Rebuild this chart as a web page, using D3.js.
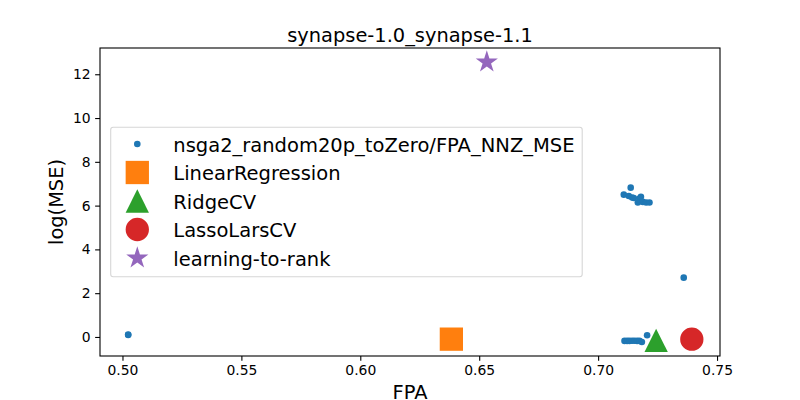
<!DOCTYPE html>
<html>
<head>
<meta charset="utf-8">
<script src="https://cdn.jsdelivr.net/npm/d3@7"></script>
<style>
  body { margin: 0; background: #fff; }
  svg { display: block; font-family: "DejaVu Sans", sans-serif; }
</style>
</head>
<body>
<div id="chart"></div>
<script>
// nsga2 front (FPA, log(MSE))
let nsgaFPA = [0.5024, 0.5024,
	0.7108, 0.7137, 0.7129, 0.7143, 0.7150, 0.7180, 0.7174, 0.7167, 0.7188, 0.7202, 0.7216,
	0.7360,
	0.7111, 0.7122, 0.7132, 0.7143, 0.7153, 0.7164, 0.7174, 0.7184, 0.7206];
let nsgaMSE = [0.09, 0.11,
	6.50, 6.82, 6.44, 6.37, 6.35, 6.40, 6.32, 6.14, 6.17, 6.14, 6.14,
	2.71,
	-0.18, -0.18, -0.18, -0.17, -0.17, -0.18, -0.18, -0.23, 0.08];

// single-point baselines
let baseNames = ["LinearRegression", "RidgeCV", "LassoLarsCV", "learning-to-rank"];
let baseFPA = [0.6383, 0.7244, 0.7394, 0.6532];
let baseMSE = [-0.10, -0.16, -0.10, 12.56];
let baseShapes = ["square", "triangle", "circle", "star"];
let baseColors = ["#ff7f0e", "#2ca02c", "#d62728", "#9467bd"];

let nsgaName = "nsga2_random20p_toZero/FPA_NNZ_MSE";
let nsgaColor = "#1f77b4";
let xTicks = [0.50, 0.55, 0.60, 0.65, 0.70, 0.75];
let yTicks = [0, 2, 4, 6, 8, 10, 12];
let chartTitle = "synapse-1.0_synapse-1.1";

let w = 800, h = 400,
	margin = {top: 48, right: 80, bottom: 44, left: 100},
	markSize = 23.3,
	dotR = 3.3;

let svg = d3.select("#chart").append("svg").attr("width", w).attr("height", h);

// matplotlib style 5% padding around data
function padded(arr){
	let lo = d3.min(arr), hi = d3.max(arr), p = (hi - lo) * 0.05;
	return [lo - p, hi + p];
}
let allX = nsgaFPA.concat(baseFPA), allY = nsgaMSE.concat(baseMSE);

let x = d3.scaleLinear().domain(padded(allX)).range([margin.left, w - margin.right]);
let y = d3.scaleLinear().domain(padded(allY)).range([h - margin.bottom, margin.top]);

function markerPath(shape, s){
	let r = s / 2;
	if(shape === "square"){
		return "M" + (-r) + "," + (-r) + "H" + r + "V" + r + "H" + (-r) + "Z";
	}
	if(shape === "triangle"){
		return "M0," + (-r) + "L" + r + "," + r + "L" + (-r) + "," + r + "Z";
	}
	if(shape === "circle"){
		return "M" + r + ",0A" + r + "," + r + " 0 1,1 " + (-r) + ",0A" + r + "," + r + " 0 1,1 " + r + ",0Z";
	}
	// star, inner ratio like matplotlib
	let pts = [], ri = r * 0.381966;
	for(let i = 0; i < 10; i++){
		let a = -Math.PI / 2 + i * Math.PI / 5, rr = i % 2 ? ri : r;
		pts.push([rr * Math.cos(a), rr * Math.sin(a)]);
	}
	return "M" + pts.map(p => p[0].toFixed(2) + "," + p[1].toFixed(2)).join("L") + "Z";
}

// axes
let tickLen = 4.86;
let xAxis = svg.append("g")
	.attr("transform", "translate(0," + (h - margin.bottom) + ")")
	.call(d3.axisBottom(x).tickValues(xTicks).tickFormat(d3.format(".2f")).tickSizeOuter(0).tickSize(tickLen).tickPadding(4.5));
let yAxis = svg.append("g")
	.attr("transform", "translate(" + margin.left + ",0)")
	.call(d3.axisLeft(y).tickValues(yTicks).tickFormat(d3.format("d")).tickSizeOuter(0).tickSize(tickLen).tickPadding(4.5));
[xAxis, yAxis].forEach(function(a){
	a.select(".domain").remove();
	a.selectAll("line").attr("stroke", "#000").attr("stroke-width", 1.1);
	a.selectAll("text").attr("fill", "#000").style("font-size", "13.9px").style("font-family", "DejaVu Sans");
});

// frame
svg.append("rect")
	.attr("x", margin.left).attr("y", margin.top)
	.attr("width", w - margin.left - margin.right)
	.attr("height", h - margin.top - margin.bottom)
	.attr("fill", "none").attr("stroke", "#000").attr("stroke-width", 1.1);

// points
let plot = svg.append("g");
plot.selectAll("circle.nsga")
	.data(d3.range(nsgaFPA.length))
	.enter().append("circle")
	.attr("class", "nsga")
	.attr("cx", i => x(nsgaFPA[i]))
	.attr("cy", i => y(nsgaMSE[i]))
	.attr("r", dotR)
	.attr("fill", nsgaColor);

plot.selectAll("path.base")
	.data(d3.range(baseNames.length))
	.enter().append("path")
	.attr("class", "base")
	.attr("transform", i => "translate(" + x(baseFPA[i]) + "," + y(baseMSE[i]) + ")")
	.attr("d", i => markerPath(baseShapes[i], markSize))
	.attr("fill", i => baseColors[i]);

// title and labels
svg.append("text")
	.attr("x", (margin.left + w - margin.right) / 2).attr("y", 41.5)
	.attr("text-anchor", "middle").style("font-size", "19.4px")
	.text(chartTitle);
svg.append("text")
	.attr("x", (margin.left + w - margin.right) / 2).attr("y", 398.5)
	.attr("text-anchor", "middle").style("font-size", "19.4px")
	.text("FPA");
svg.append("text")
	.attr("transform", "translate(62.7," + ((margin.top + h - margin.bottom) / 2) + ") rotate(-90)")
	.attr("text-anchor", "middle").style("font-size", "19.4px")
	.text("log(MSE)");

// legend
let legendRows = [{name: nsgaName, shape: "dot", color: nsgaColor}];
baseNames.forEach(function(n, i){
	legendRows.push({name: n, shape: baseShapes[i], color: baseColors[i]});
});
let leg = svg.append("g");
leg.append("rect")
	.attr("x", 110.7).attr("y", 127.3).attr("width", 471.5).attr("height", 149.4)
	.attr("rx", 2.5).attr("fill", "#fff").attr("fill-opacity", 0.8)
	.attr("stroke", "#d6d6d6").attr("stroke-width", 1.1);
legendRows.forEach(function(r, i){
	let ry = 144 + i * 28.5;
	if(r.shape === "dot"){
		leg.append("circle").attr("cx", 137.3).attr("cy", ry).attr("r", dotR).attr("fill", r.color);
	}else{
		leg.append("path")
			.attr("transform", "translate(137.3," + ry + ")")
			.attr("d", markerPath(r.shape, markSize))
			.attr("fill", r.color);
	}
	leg.append("text")
		.attr("x", 173.3).attr("y", ry + 7.5)
		.style("font-size", "19.5px")
		.text(r.name);
});
</script>
</body>
</html>
